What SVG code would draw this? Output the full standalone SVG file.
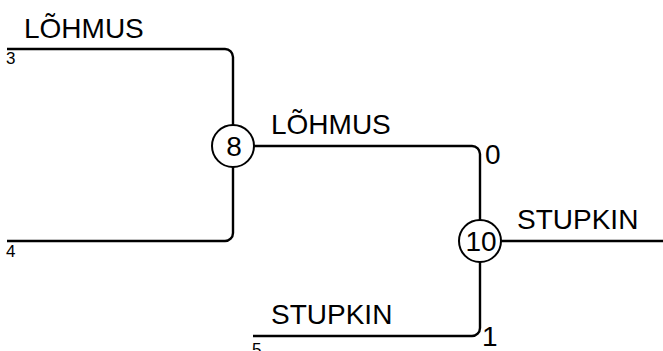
<svg xmlns="http://www.w3.org/2000/svg" width="663" height="351" viewBox="0 0 663 351">
<style>
.c{fill:none;stroke:#000;stroke-width:2.4;stroke-linejoin:round}
.n{fill:#fff;stroke:#000;stroke-width:2}
text{font-family:"Liberation Sans",Arial,sans-serif;fill:#000}
</style>
<rect width="663" height="351" fill="#fff"/>
<g id="connectors">
<path class="c" d="M7,49 H225 A8,8 0 0 1 233,57 V125"/>
<path class="c" d="M7,241 H225 A8,8 0 0 0 233,233 V167"/>
<path class="c" d="M254,146 H472 A8,8 0 0 1 480,154 V220"/>
<path class="c" d="M253,336 H472 A8,8 0 0 0 480,328 V262"/>
<path class="c" d="M501,241 H663"/>
</g>
<g id="labels" font-size="28">
<text x="24" y="38">LÕHMUS</text>
<text x="6" y="64" font-size="17">3</text>
<text x="6" y="257" font-size="17">4</text>
<text x="271" y="134">LÕHMUS</text>
<text x="485" y="164">0</text>
<text x="517" y="229">STUPKIN</text>
<text x="271" y="324">STUPKIN</text>
<text x="252" y="355" font-size="17">5</text>
<text x="482" y="346">1</text>
</g>
<g id="node8">
<circle class="n" cx="233" cy="146" r="21"/>
<text x="234" y="156" font-size="28" text-anchor="middle">8</text>
</g>
<g id="node10">
<circle class="n" cx="480" cy="241" r="21"/>
<text x="481" y="251" font-size="28" text-anchor="middle">10</text>
</g>
</svg>
